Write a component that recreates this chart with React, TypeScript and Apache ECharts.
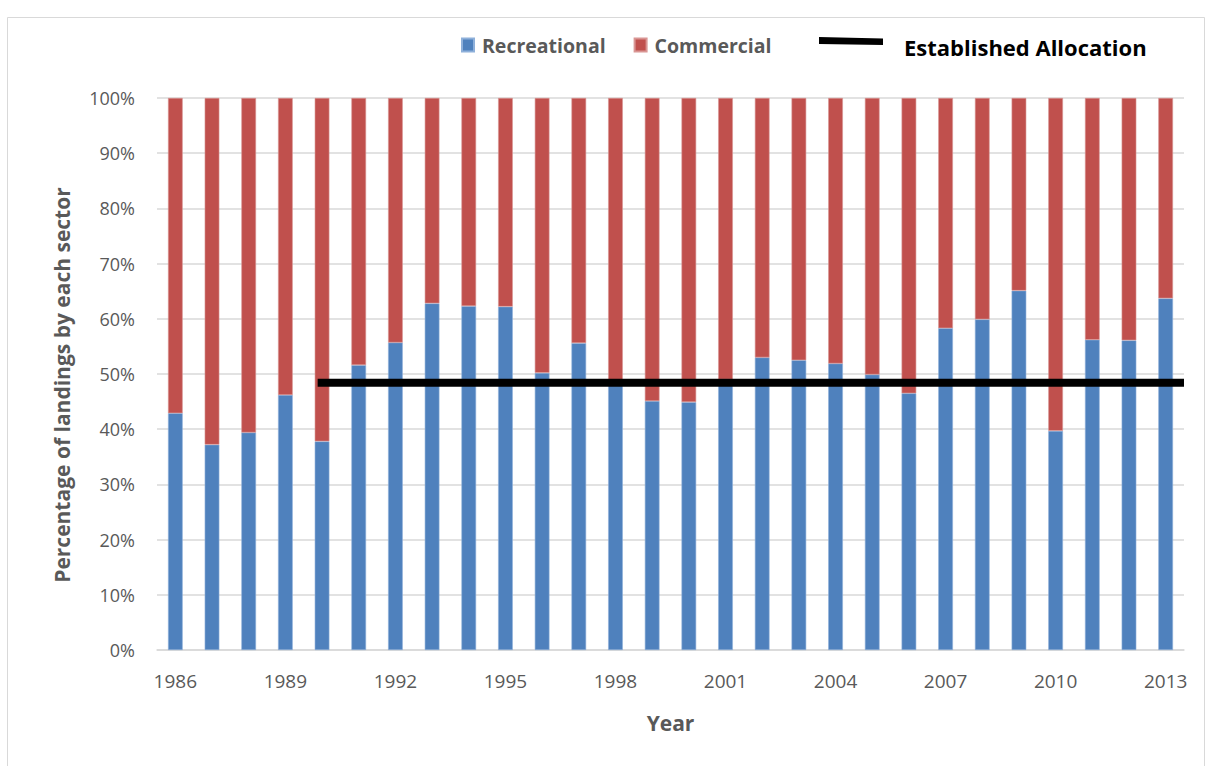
import React, { useEffect, useRef } from "react";
import * as echarts from "echarts";

// Share of landings per year, in percent
const years = [
  "1986", "1987", "1988", "1989", "1990", "1991", "1992", "1993", "1994", "1995",
  "1996", "1997", "1998", "1999", "2000", "2001", "2002", "2003", "2004", "2005",
  "2006", "2007", "2008", "2009", "2010", "2011", "2012", "2013",
];
const recreational = [
  42.9, 37.2, 39.4, 46.2, 37.8, 51.6, 55.7, 62.8, 62.3, 62.2,
  50.2, 55.6, 48.7, 45.1, 44.9, 49.0, 53.0, 52.5, 51.9, 49.9,
  46.5, 58.3, 59.9, 65.1, 39.7, 56.2, 56.1, 63.7,
];
const commercial = recreational.map((v) => +(100 - v).toFixed(1));

// Established allocation line: starts at the 1990 bar and runs to the end of the axis
const allocationValue = 48.4;
const allocationStart = 4.38;
const allocationEnd = 28;

const FONT = "'Open Sans', 'Noto Sans', sans-serif";
const GRAY = "#595959";

// Legend swatch for the allocation line: a short slanted bar sitting high in its box
const LINE_ICON = "path://M0,0L64,1.5L64,8L0,7Z M0,20L0.1,20L0.1,20.1Z";

export default function App() {
  const ref = useRef<HTMLDivElement>(null);

  useEffect(() => {
    if (!ref.current) return;
    const chart = echarts.init(ref.current, null, { renderer: "svg" });
    chart.setOption({
      animation: false,
      backgroundColor: "#ffffff",
      textStyle: { fontFamily: FONT },
      graphic: [
        {
          type: "rect",
          shape: { x: 7.5, y: 17.5, width: 1197, height: 770 },
          style: { fill: "none", stroke: "#d9d9d9", lineWidth: 1 },
          silent: true,
        },
      ],
      legend: [
        {
          left: 456,
          top: 30,
          itemWidth: 12,
          itemHeight: 13,
          itemGap: 28,
          icon: "rect",
          data: ["Recreational", "Commercial"],
          textStyle: {
            color: GRAY,
            fontSize: 19.5,
            fontWeight: "bold",
            fontFamily: FONT,
            padding: [0, 0, 0, 3],
          },
        },
        {
          left: 814,
          top: 31,
          itemWidth: 64,
          itemHeight: 20.1,
          icon: LINE_ICON,
          data: ["Established Allocation"],
          textStyle: {
            color: "#000000",
            fontSize: 22,
            fontWeight: "bold",
            fontFamily: FONT,
            padding: [0, 0, 0, 16],
          },
        },
      ],
      grid: { left: 157, right: 23, top: 98, bottom: 116 },
      xAxis: [
        {
          type: "category",
          data: years,
          axisTick: { show: false },
          axisLine: { lineStyle: { color: "#d9d9d9", width: 1.5 } },
          axisLabel: { interval: 2, color: GRAY, fontSize: 19, margin: 21, fontFamily: FONT },
          name: "Year",
          nameLocation: "middle",
          nameGap: 62,
          nameTextStyle: { color: GRAY, fontSize: 21, fontWeight: "bold", fontFamily: FONT },
        },
        {
          type: "value",
          min: 0,
          max: 28,
          show: false,
        },
      ],
      yAxis: {
        type: "value",
        min: 0,
        max: 100,
        interval: 10,
        axisLine: { show: false },
        axisTick: { show: false },
        axisLabel: { formatter: "{value}%", color: GRAY, fontSize: 18, margin: 22, fontFamily: FONT },
        splitLine: { lineStyle: { color: "#d9d9d9", width: 1.5 } },
        name: "Percentage of landings by each sector",
        nameLocation: "middle",
        nameGap: 85,
        nameTextStyle: {
          color: GRAY,
          fontSize: 21,
          fontWeight: "bold",
          fontFamily: FONT,
          padding: [0, 22, 0, 0],
        },
      },
      series: [
        {
          name: "Recreational",
          type: "bar",
          stack: "share",
          data: recreational,
          barWidth: "40%",
          itemStyle: { color: "#4f81bd", borderColor: "#8eb0da", borderWidth: 0.6 },
        },
        {
          name: "Commercial",
          type: "bar",
          stack: "share",
          data: commercial,
          barWidth: "40%",
          itemStyle: { color: "#c0504d", borderColor: "#d99694", borderWidth: 0.6 },
        },
        {
          name: "Established Allocation",
          type: "line",
          xAxisIndex: 1,
          yAxisIndex: 0,
          symbol: "none",
          data: [
            [allocationStart, allocationValue],
            [allocationEnd, allocationValue],
          ],
          lineStyle: { color: "#000000", width: 8 },
          itemStyle: { color: "#000000" },
          z: 5,
        },
      ],
    });
    return () => chart.dispose();
  }, []);

  return (
    <div
      ref={ref}
      style={{ position: "absolute", left: 0, top: 0, width: 1207, height: 766 }}
    />
  );
}
